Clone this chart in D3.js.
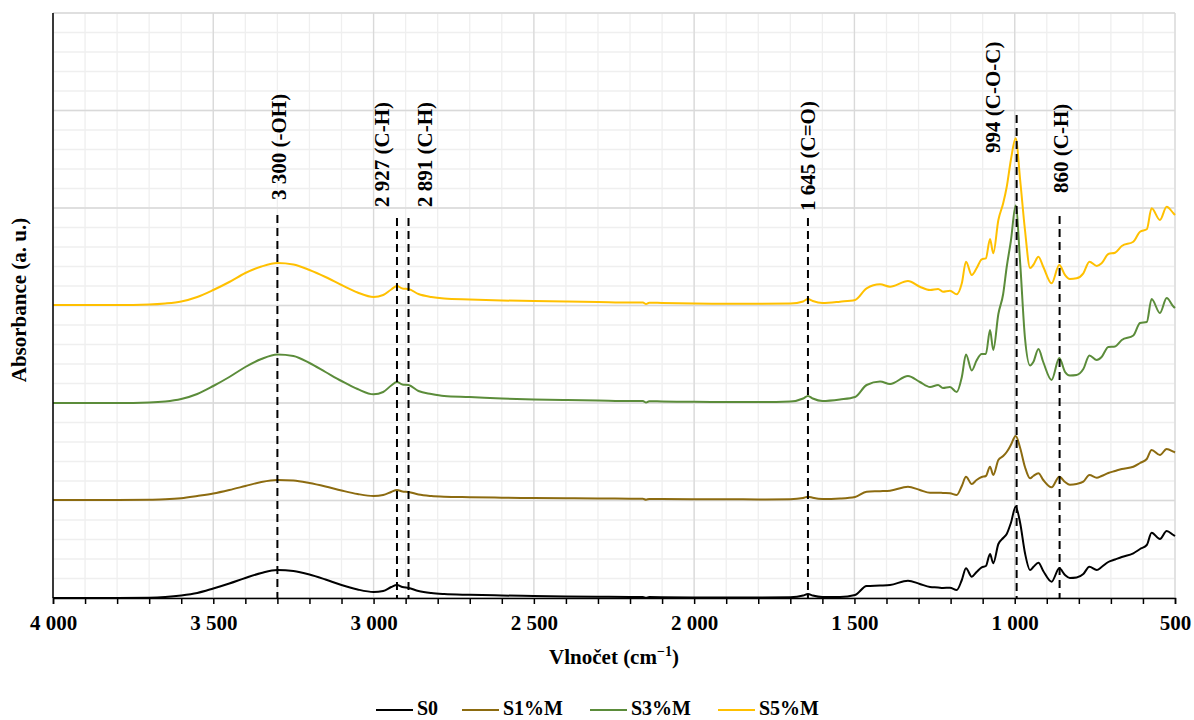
<!DOCTYPE html>
<html>
<head>
<meta charset="utf-8">
<script src="https://cdn.jsdelivr.net/npm/d3@7"></script>
<style>
  html, body { margin: 0; padding: 0; background: #fff; }
  text { font-family: "Liberation Serif", "Times New Roman", serif; font-weight: bold; fill: #000; }
</style>
</head>
<body>
<svg id="chart" width="1194" height="720"></svg>
<script>
// ---------------- DATA ----------------
const wavenumbers = [4000,3800,3700,3650,3600,3550,3500,3450,3400,3350,
  3300,3250,3200,3150,3100,3050,3000,2970,2945,2927,
  2910,2891,2860,2820,2780,2700,2600,2500,2400,2300,
  2200,2160,2150,2140,2100,2000,1900,1800,1700,1660,
  1645,1630,1600,1545,1498,1462,1420,1389,1333,1296,
  1264,1239,1224,1202,1181,1165,1152,1134,1119,1103,
  1090,1077,1067,1051,1036,1025,1012,997,983,968,
  952,942,926,911,885,861,843,828,807,786,
  767,744,729,708,687,666,630,609,588,573,
  547,526,505,500];

const seriesNames = ["S0", "S1%M", "S3%M", "S5%M"];
const seriesOffsets = [0, 98, 195, 293];   // vertical stacking offsets (a. u.)

const s0 = [0,0,0.3,1,2.5,5,9.5,14.5,20,25,
  28,27,23.5,18.5,13,8.5,6,7,11,13,
  11,10,7,5,4,3.2,2.5,2,1.6,1.3,
  1,1,0.2,0.9,0.8,0.6,0.5,0.5,0.8,2.5,
  4,2.5,1,1,3,12,12.5,13,17.3,14,
  11,10.5,10,10.3,8,18,29.7,21.3,26,30.7,
  32,44,34.7,54,60,64,75,91.3,75,45,
  28,31,35.3,27,16.3,29.7,23,20,20.5,24,
  31.3,28,31,36,38.5,41,44.7,49,53,65.3,
  59,67,63,62];

const s1 = [0,0,0.3,0.7,1.8,4,6.5,10,14,18,
  20,19.5,17,13.5,9.5,6,4,5,8,10,
  8.5,8,5.5,4,3.3,2.8,2.3,2,1.8,1.5,
  1.3,1.2,0.3,1.1,1,0.8,0.7,0.6,0.8,2,
  3.3,2.2,1,1.5,3,8.3,8.8,9.3,13.3,10,
  7.3,7.3,7,6.7,5,14,23.3,16,20,23,
  24,33.3,25,40,44,48,55,64,52,33,
  21.7,24,26.7,20,12.7,23.3,18,15.3,16,18.3,
  25,22.3,24,27,29,31,33.3,37,41,50,
  45,51,48.3,47.5];

const s3 = [0,0,0.5,1.5,4,9,17,26,36,44,
  48.5,47,40,31,22,14,8.7,11,17.5,21,
  18.5,18,12,9,7,6,4.5,3.5,3,2.5,
  2,2,0.5,1.8,1.5,1.2,1,0.9,1.5,4.5,
  7,4.5,2,3.5,6,18,21.5,19,27,21,
  16,18,15,16,11,26,48.5,32.5,42.5,49,
  49,73,53,89,109,136,162,197.5,140,65,
  37.5,41,54,41,23,45,31,27.5,28,34,
  47.5,43,46,56,56.5,63,67.5,80,81,104,
  90,105,96.5,95];

const s5 = [0,0,0.5,1.5,3.5,8,15,23,32,38.5,
  42,40.5,35,28,20,12.5,8,10,15.5,19,
  16.5,16,11,8,6.5,5.5,4.5,4,3.5,3,
  2.5,2.5,1,2.3,2,1.5,1.3,1.2,1.5,3.5,
  6,4,2,3.3,5,16.7,20.7,18.3,24,18.3,
  15,16,13.3,14.3,10.7,21.7,43.3,30,36.7,45.7,
  46.7,66,51.7,85,101.7,118,145,166.7,125,75,
  37,40,48.3,38.3,21.7,40,30,26,26.7,31.7,
  43.3,39,41.7,51,52.3,59,63.3,73.3,75.7,96.7,
  85,98.3,91.7,90];

const xTicks = [4000,3500,3000,2500,2000,1500,1000,500];
const annWavenumbers = [3300, 2927, 2891, 1645, 994, 860];
const annLabels = ["3 300 (-OH)", "2 927 (C-H)", "2 891 (C-H)", "1 645 (C=O)", "994 (C-O-C)", "860 (C-H)"];

// ---------------- LAYOUT / STYLE ----------------
const colors = ["#000000", "#8C6B10", "#5B8C3A", "#FFC000"];
const plot = { left: 53, right: 1175, top: 13, bottom: 598 };
const yMax = 585, yMajor = 97.5, yMinor = 19.5;
// annotation layout: text x shift, text bottom (px), dashed line top (px)
const annLayout = [
  { dx: 1,   bottom: 200, lineTop: 215 },
  { dx: -15, bottom: 207, lineTop: 218 },
  { dx: 16,  bottom: 207, lineTop: 218 },
  { dx: 0,   bottom: 211, lineTop: 218 },
  { dx: -24, bottom: 153, lineTop: 115 },
  { dx: 1,   bottom: 193, lineTop: 216 }
];

const svg = d3.select("#chart");
const x = d3.scaleLinear().domain([4000, 500]).range([plot.left, plot.right]);
const y = d3.scaleLinear().domain([0, yMax]).range([plot.bottom, plot.top]);

// grid
const g = svg.append("g");
const minorX = d3.range(4000, 499, -100);
const minorY = d3.range(0, yMax + 0.01, yMinor);
g.selectAll(".mx").data(minorX).join("line")
  .attr("x1", d => x(d)).attr("x2", d => x(d)).attr("y1", plot.top).attr("y2", plot.bottom)
  .attr("stroke", "#efefef").attr("stroke-width", 1.3);
g.selectAll(".my").data(minorY).join("line")
  .attr("x1", plot.left).attr("x2", plot.right).attr("y1", d => y(d)).attr("y2", d => y(d))
  .attr("stroke", "#efefef").attr("stroke-width", 1.3);
g.selectAll(".Mx").data(xTicks).join("line")
  .attr("x1", d => x(d)).attr("x2", d => x(d)).attr("y1", plot.top).attr("y2", plot.bottom)
  .attr("stroke", "#d9d9d9").attr("stroke-width", 1.3);
g.selectAll(".My").data(d3.range(0, yMax + 0.01, yMajor)).join("line")
  .attr("x1", plot.left).attr("x2", plot.right).attr("y1", d => y(d)).attr("y2", d => y(d))
  .attr("stroke", "#d9d9d9").attr("stroke-width", 1.3);

// series
const allSeries = [s0, s1, s3, s5];
const line = d3.line().x(d => x(d[0])).y(d => y(d[1])).curve(d3.curveMonotoneX);
allSeries.forEach((vals, i) => {
  const pts = wavenumbers.map((w, k) => [w, seriesOffsets[i] + vals[k]]);
  svg.append("path").datum(pts)
    .attr("d", line).attr("fill", "none")
    .attr("stroke", colors[i]).attr("stroke-width", 2).attr("stroke-linejoin", "round");
});

// axes
const fmt = d3.formatLocale({ decimal: ",", thousands: " ", grouping: [3], currency: ["", ""] }).format(",");
const xAxis = d3.axisBottom(x).tickValues(minorX).tickSize(6).tickFormat(d => xTicks.includes(d) ? fmt(d) : "");
const ax = svg.append("g").attr("transform", `translate(0,${plot.bottom})`).call(xAxis);
ax.select(".domain").attr("stroke", "#000").attr("stroke-width", 1.5);
ax.selectAll(".tick line").attr("stroke", "#000").attr("stroke-width", 1.5);
ax.selectAll(".tick text").attr("font-size", 21).attr("font-family", "Liberation Serif").attr("font-weight", "bold")
  .attr("fill", "#000").attr("dy", 0).attr("y", 32);
svg.append("line").attr("x1", plot.left).attr("x2", plot.left).attr("y1", plot.top).attr("y2", plot.bottom)
  .attr("stroke", "#000").attr("stroke-width", 1.5);

// annotations
annWavenumbers.forEach((w, i) => {
  const L = annLayout[i];
  svg.append("line").attr("x1", x(w)).attr("x2", x(w)).attr("y1", L.lineTop).attr("y2", plot.bottom)
    .attr("stroke", "#000").attr("stroke-width", 2).attr("stroke-dasharray", "8,5");
  svg.append("text")
    .attr("transform", `translate(${x(w) + L.dx},${L.bottom}) rotate(-90)`)
    .attr("dy", "0.35em").attr("font-size", 21).text(annLabels[i]);
});

// axis titles
svg.append("text").attr("transform", "translate(26,300) rotate(-90)")
  .attr("text-anchor", "middle").attr("font-size", 21).text("Absorbance (a. u.)");
const xt = svg.append("text").attr("x", 614).attr("y", 664).attr("text-anchor", "middle").attr("font-size", 21);
xt.append("tspan").text("Vlnočet (cm");
xt.append("tspan").attr("dy", -8).attr("font-size", 14).text("−1");
xt.append("tspan").attr("dy", 8).text(")");

// legend
const legX = [376, 462, 590, 718];
seriesNames.forEach((n, i) => {
  svg.append("line").attr("x1", legX[i]).attr("x2", legX[i] + 37).attr("y1", 710).attr("y2", 710)
    .attr("stroke", colors[i]).attr("stroke-width", 2);
  svg.append("text").attr("x", legX[i] + 41).attr("y", 715).attr("font-size", 20).text(n);
});
</script>
</body>
</html>
